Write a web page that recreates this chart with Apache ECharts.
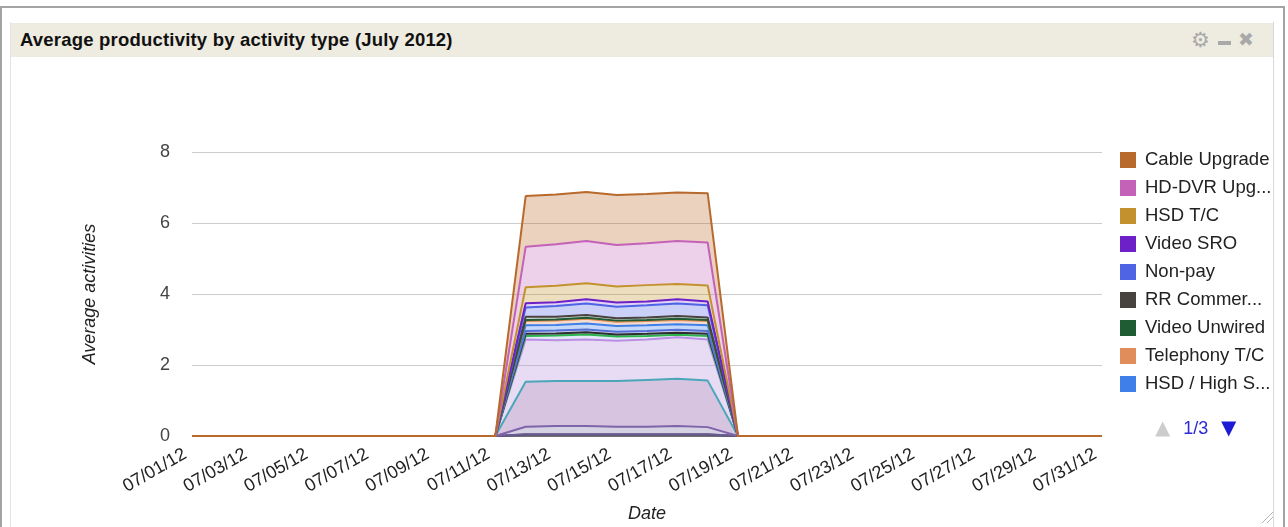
<!DOCTYPE html>
<html>
<head>
<meta charset="utf-8">
<script src="https://cdn.jsdelivr.net/npm/echarts@6/dist/echarts.min.js"></script>
<style>
  html, body { margin: 0; padding: 0; background: #fff; }
  body { width: 1288px; height: 527px; position: relative; overflow: hidden;
         font-family: "Liberation Sans", Arial, Helvetica, sans-serif; }
  #frame { position: absolute; left: 0; top: 6px; width: 1281px; height: 530px;
           border: 2px solid #a3a3a3; border-bottom: none; }
  #panel { position: absolute; left: 10px; top: 22px; width: 1262px; height: 520px;
           border-left: 1px solid #e3e3e3; border-right: 1px solid #d9d9d9; }
  #titlebar { position: absolute; left: 0; top: 1px; width: 1262px; height: 34px;
              background: #eeebe0; }
  #title { position: absolute; left: 9px; top: 0; line-height: 34px; font-size: 18.5px;
           font-weight: bold; color: #111; letter-spacing: 0.2px; }
  .ico { position: absolute; color: #a9a9a9; }
  #gear { left: 1180px; top: 5px; font-size: 21px; font-family: "DejaVu Sans", sans-serif; }
  #minus { left: 1207px; top: 18px; width: 13px; height: 4px; background: #a9a9a9; }
  #close { left: 1227px; top: 5px; font-size: 19px; font-weight: bold; font-family: "DejaVu Sans", sans-serif; }
  #chart { position: absolute; left: 0; top: 0; width: 1288px; height: 527px; }
  #grip { position: absolute; left: 1260px; top: 510px; }
</style>
</head>
<body>
<div id="frame"></div>
<div id="panel">
  <div id="titlebar">
    <div id="title">Average productivity by activity type (July 2012)</div>
    <div class="ico" id="gear">⚙</div>
    <div class="ico" id="minus"></div>
    <div class="ico" id="close">✖</div>
  </div>
</div>
<svg id="grip" width="14" height="14">
  <line x1="2" y1="13" x2="13" y2="2" stroke="#b5b5b5" stroke-width="1"/>
  <line x1="7" y1="13" x2="13" y2="7" stroke="#b5b5b5" stroke-width="1"/>
</svg>
<div id="chart"></div>
<script>
// Dates of July 2012
const dates = ['07/01/12','07/02/12','07/03/12','07/04/12','07/05/12','07/06/12','07/07/12','07/08/12',
  '07/09/12','07/10/12','07/11/12','07/12/12','07/13/12','07/14/12','07/15/12','07/16/12','07/17/12',
  '07/18/12','07/19/12','07/20/12','07/21/12','07/22/12','07/23/12','07/24/12','07/25/12','07/26/12',
  '07/27/12','07/28/12','07/29/12','07/30/12','07/31/12'];

const yTicks = [0, 2, 4, 6, 8];

// Average activities per day, one array per activity type (stack order: bottom first)
const reconnect     = [0,0,0,0,0,0,0,0,0,0,0, 0.01,0.01,0.01,0.01,0.01,0.01,0.01, 0,0,0,0,0,0,0,0,0,0,0,0,0];
const equipSwap     = [0,0,0,0,0,0,0,0,0,0,0, 0.01,0.01,0.01,0.01,0.01,0.01,0.01, 0,0,0,0,0,0,0,0,0,0,0,0,0];
const disconnect    = [0,0,0,0,0,0,0,0,0,0,0, 0.02,0.02,0.02,0.02,0.02,0.02,0.02, 0,0,0,0,0,0,0,0,0,0,0,0,0];
const hsdInstall    = [0,0,0,0,0,0,0,0,0,0,0, 0.01,0.01,0.01,0.01,0.01,0.01,0.01, 0,0,0,0,0,0,0,0,0,0,0,0,0];
const videoInstall  = [0,0,0,0,0,0,0,0,0,0,0, 0.21,0.23,0.23,0.21,0.21,0.23,0.20, 0,0,0,0,0,0,0,0,0,0,0,0,0];
const phoneInstall  = [0,0,0,0,0,0,0,0,0,0,0, 1.27,1.27,1.27,1.29,1.32,1.33,1.31, 0,0,0,0,0,0,0,0,0,0,0,0,0];
const hsdUpgrade    = [0,0,0,0,0,0,0,0,0,0,0, 1.19,1.15,1.17,1.13,1.14,1.17,1.16, 0,0,0,0,0,0,0,0,0,0,0,0,0];
const videoTC       = [0,0,0,0,0,0,0,0,0,0,0, 0.10,0.13,0.14,0.12,0.10,0.07,0.10, 0,0,0,0,0,0,0,0,0,0,0,0,0];
const hsdSRO        = [0,0,0,0,0,0,0,0,0,0,0, 0.06,0.06,0.06,0.06,0.06,0.06,0.06, 0,0,0,0,0,0,0,0,0,0,0,0,0];
const phoneSRO      = [0,0,0,0,0,0,0,0,0,0,0, 0.08,0.08,0.08,0.08,0.08,0.08,0.08, 0,0,0,0,0,0,0,0,0,0,0,0,0];
const hsdHighSpeed  = [0,0,0,0,0,0,0,0,0,0,0, 0.16,0.16,0.17,0.16,0.16,0.16,0.16, 0,0,0,0,0,0,0,0,0,0,0,0,0];
const telephonyTC   = [0,0,0,0,0,0,0,0,0,0,0, 0.12,0.12,0.13,0.12,0.12,0.12,0.12, 0,0,0,0,0,0,0,0,0,0,0,0,0];
const videoUnwired  = [0,0,0,0,0,0,0,0,0,0,0, 0.03,0.03,0.03,0.03,0.03,0.03,0.03, 0,0,0,0,0,0,0,0,0,0,0,0,0];
const rrCommercial  = [0,0,0,0,0,0,0,0,0,0,0, 0.09,0.08,0.08,0.07,0.07,0.08,0.07, 0,0,0,0,0,0,0,0,0,0,0,0,0];
const nonPay        = [0,0,0,0,0,0,0,0,0,0,0, 0.26,0.30,0.32,0.32,0.34,0.35,0.34, 0,0,0,0,0,0,0,0,0,0,0,0,0];
const videoSRO      = [0,0,0,0,0,0,0,0,0,0,0, 0.12,0.11,0.12,0.12,0.11,0.12,0.11, 0,0,0,0,0,0,0,0,0,0,0,0,0];
const hsdTC         = [0,0,0,0,0,0,0,0,0,0,0, 0.45,0.46,0.45,0.45,0.46,0.43,0.45, 0,0,0,0,0,0,0,0,0,0,0,0,0];
const hdDvrUpgrade  = [0,0,0,0,0,0,0,0,0,0,0, 1.14,1.17,1.19,1.17,1.18,1.21,1.21, 0,0,0,0,0,0,0,0,0,0,0,0,0];
const cableUpgrade  = [0,0,0,0,0,0,0,0,0,0,0, 1.43,1.40,1.38,1.41,1.39,1.37,1.39, 0,0,0,0,0,0,0,0,0,0,0,0,0];

// [name, values, line colour, fill colour]
const layers = [
  ['Reconnect',       reconnect,     '#5a5a5a', '#5a5a5a'],
  ['Equip. Swap',     equipSwap,     '#6a6a8a', '#6a6a8a'],
  ['Disconnect',      disconnect,    '#4d4d4d', '#4d4d4d'],
  ['HSD Install',     hsdInstall,    '#6b5b95', '#6b5b95'],
  ['Video Install',   videoInstall,  '#7f64aa', '#7369a5'],
  ['Phone Install',   phoneInstall,  '#4ba6b9', '#7a3c97'],
  ['HSD Upgrade',     hsdUpgrade,    '#bb8fe3', '#b28ade'],
  ['Video T/C',       videoTC,       '#2db34c', '#9fb8e8'],
  ['HSD SRO',         hsdSRO,        '#2e2e2e', '#5570d6'],
  ['Phone SRO',       phoneSRO,      '#5670d6', '#5670d6'],
  ['HSD / High S...', hsdHighSpeed,  '#3e7fea', '#3e7fea'],
  ['Telephony T/C',   telephonyTC,   '#e08c5b', '#e08c5b'],
  ['Video Unwired',   videoUnwired,  '#1f5c33', '#1f5c33'],
  ['RR Commer...',    rrCommercial,  '#48433e', '#8a8a9a'],
  ['Non-pay',         nonPay,        '#4e64e4', '#4e64e4'],
  ['Video SRO',       videoSRO,      '#6d20c8', '#9a6be0'],
  ['HSD T/C',         hsdTC,         '#c3922f', '#c3922f'],
  ['HD-DVR Upg...',   hdDvrUpgrade,  '#c462b8', '#c462b8'],
  ['Cable Upgrade',   cableUpgrade,  '#b8692c', '#b8692c']
];

const font = '"Liberation Sans", Arial, Helvetica, sans-serif';

const series = layers.map(([name, values, line, fill]) => ({
  name: name,
  type: 'line',
  stack: 'total',
  data: values,
  color: line,
  showSymbol: false,
  symbol: 'none',
  lineStyle: { width: 2, color: line },
  areaStyle: { color: fill, opacity: 0.3 },
  emphasis: { disabled: true }
}));

const chart = echarts.init(document.getElementById('chart'), null, { renderer: 'canvas' });
chart.setOption({
  animation: false,
  textStyle: { fontFamily: font },
  grid: { left: 192, right: 186, top: 152, bottom: 91, containLabel: false, outerBoundsMode: 'none' },
  legend: {
    type: 'scroll',
    orient: 'vertical',
    left: 1115,
    top: 145,
    width: 70,
    height: 288,
    icon: 'rect',
    itemWidth: 16,
    itemHeight: 16,
    itemGap: 8,
    selectedMode: false,
    data: layers.map(l => l[0]).reverse(),
    textStyle: { fontSize: 18.5, color: '#222', fontFamily: font, lineHeight: 20, padding: [0, 0, 0, 4] },
    pageButtonPosition: 'end',
    pageButtonGap: 20,
    pageButtonItemGap: 5,
    pageIconColor: '#1c1cd6',
    pageIconInactiveColor: '#cccccc',
    pageIconSize: 15,
    pageTextStyle: { color: '#2a2ad8', fontSize: 18, fontFamily: font },
    pageFormatter: '{current}/{total}'
  },
  xAxis: {
    type: 'category',
    data: dates,
    boundaryGap: false,
    name: 'Date',
    nameLocation: 'middle',
    nameGap: 69,
    nameTextStyle: { fontSize: 18, fontStyle: 'italic', color: '#222', fontFamily: font },
    axisLine: { show: false },
    axisTick: { show: false },
    axisLabel: { interval: 1, rotate: 30, fontSize: 18, color: '#222', margin: 13,
                 padding: [0, 8, 0, 0], fontFamily: font }
  },
  yAxis: {
    type: 'value',
    min: yTicks[0],
    max: yTicks[yTicks.length - 1],
    interval: 2,
    name: 'Average activities',
    nameLocation: 'middle',
    nameGap: 93,
    nameTextStyle: { fontSize: 18, fontStyle: 'italic', color: '#222', fontFamily: font },
    axisLine: { show: false },
    axisTick: { show: false },
    axisLabel: { fontSize: 18, color: '#444', margin: 22, fontFamily: font },
    splitLine: { lineStyle: { color: '#cccccc', width: 1 } }
  },
  series: series
});
</script>
</body>
</html>
